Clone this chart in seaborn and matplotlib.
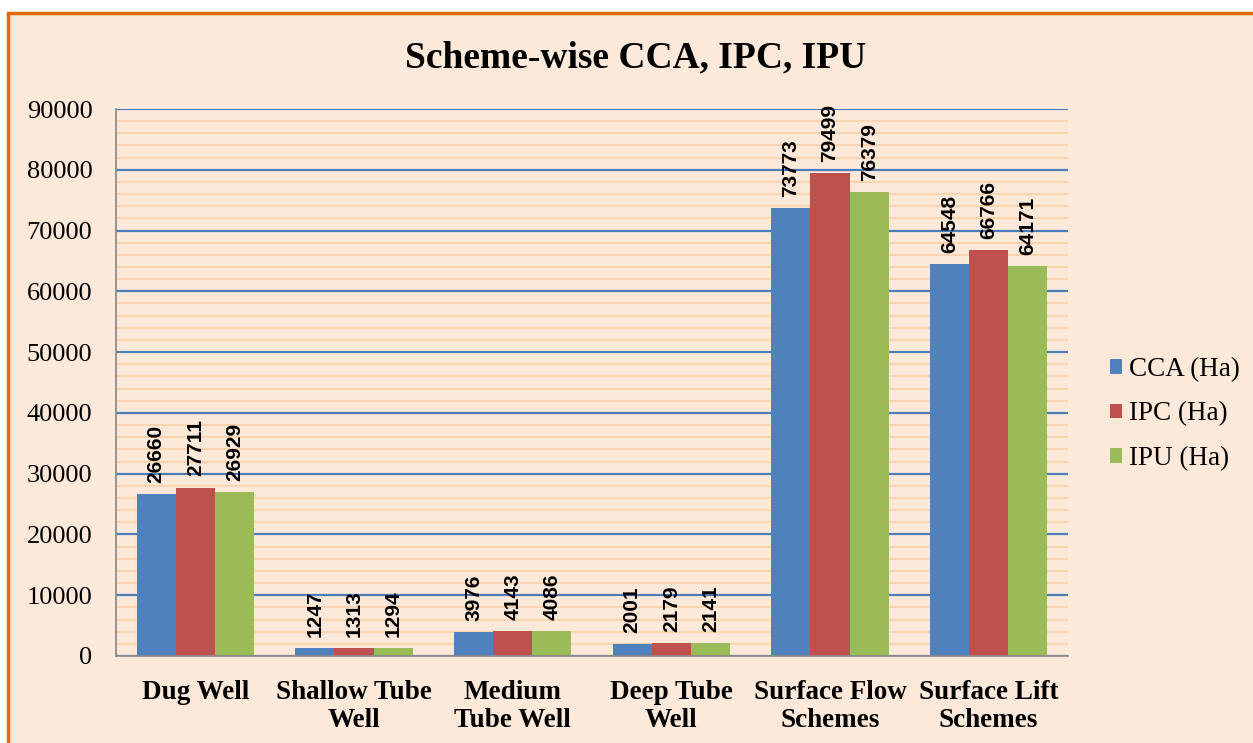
import matplotlib
matplotlib.use("Agg")
import matplotlib.pyplot as plt
import seaborn as sns
import pandas as pd
from matplotlib.patches import Rectangle, Patch
from matplotlib.ticker import MultipleLocator, FixedLocator

categories = ["Dug Well", "Shallow Tube\nWell", "Medium\nTube Well", "Deep Tube\nWell",
              "Surface Flow\nSchemes", "Surface Lift\nSchemes"]
series_names = ["CCA (Ha)", "IPC (Ha)", "IPU (Ha)"]
cca = [26660, 1247, 3976, 2001, 73773, 64548]
ipc = [27711, 1313, 4143, 2179, 79499, 66766]
ipu = [26929, 1294, 4086, 2141, 76379, 64171]
colors = ["#4F81BD", "#C0504D", "#9BBB59"]

rows = []
for name, vals in zip(series_names, [cca, ipc, ipu]):
    for c, v in zip(categories, vals):
        rows.append({"Scheme": c, "Series": name, "Value": v})
df = pd.DataFrame(rows)

sns.set_theme(style="white")
plt.rcParams["text.color"] = "black"
plt.rcParams["xtick.labelcolor"] = "black"
plt.rcParams["ytick.labelcolor"] = "black"
serif = ["Liberation Serif", "DejaVu Serif"]
sans = ["Liberation Sans", "DejaVu Sans"]

fig = plt.figure(figsize=(12.53, 7.43), dpi=100)
fig.patch.set_facecolor("white")
bg = Rectangle((8 / 1253, -0.01), 1.0, 1 - 13 / 743 + 0.01, transform=fig.transFigure,
               facecolor="#FDE9D9", edgecolor="#E36C09", linewidth=2.5, zorder=-10)
fig.patches.append(bg)

ax = fig.add_axes([116 / 1253, 1 - 656 / 743, (1068 - 116) / 1253, (656 - 109) / 743])
ax.patch.set_alpha(0)

sns.barplot(data=df, x="Scheme", y="Value", hue="Series", palette=colors,
            width=0.74, gap=0, ax=ax, legend=False, saturation=1,
            edgecolor="none", zorder=3)

ax.set_ylim(0, 90000)
ax.set_xlim(-0.5, 5.5)
ax.yaxis.set_major_locator(MultipleLocator(10000))
ax.yaxis.set_minor_locator(MultipleLocator(2000))
ax.grid(which="minor", axis="y", color="#FAD3B0", linewidth=1.5, zorder=0)
ax.grid(which="major", axis="y", color="#4A7EBB", linewidth=1.6, zorder=1)
ax.grid(False, axis="x")
ax.set_axisbelow(True)

ax.set_xlabel("")
ax.set_ylabel("")
ax.set_xticks(range(len(categories)))
ax.set_xticklabels(categories, fontsize=19.5, fontweight="bold", family=serif,
                   linespacing=1.2, color="black")
ax.xaxis.set_minor_locator(FixedLocator([i - 0.5 for i in range(len(categories) + 1)]))
ax.tick_params(axis="x", which="major", length=0, pad=17)
ax.tick_params(axis="x", which="minor", length=6, width=1.3, color="#8C8C8C", direction="out")
ax.tick_params(axis="y", which="major", length=6, width=1.3, color="#8C8C8C", direction="out",
               pad=11)
ax.tick_params(axis="y", which="minor", length=0)
for lab in ax.get_yticklabels():
    lab.set_family(serif)
    lab.set_fontsize(19)
    lab.set_color("black")

for s in ["top", "right"]:
    ax.spines[s].set_visible(False)
for s in ["left", "bottom"]:
    ax.spines[s].set_color("#8C8C8C")
    ax.spines[s].set_linewidth(1.3)
    ax.spines[s].set_zorder(4)

for cont in ax.containers:
    ax.bar_label(cont, labels=[f"{int(v)}" for v in cont.datavalues], rotation=90,
                 padding=8, fontsize=15, fontweight="bold", family=sans, color="black")

fig.text(636 / 1253, 1 - 58 / 743, "Scheme-wise CCA, IPC, IPU", ha="center", va="center",
         fontsize=27, fontweight="bold", family=serif, color="black")

handles = [Patch(facecolor=c, edgecolor="none") for c in colors]
fig.legend(handles, series_names, loc="center left", bbox_to_anchor=(1110 / 1253, 1 - 414 / 743),
           frameon=False, prop={"family": serif, "size": 19.5}, handlelength=0.45,
           handleheight=0.45, handletextpad=0.25, labelspacing=0.72, borderpad=0,
           borderaxespad=0, labelcolor="black")

fig.savefig("out.png", dpi=100, facecolor=fig.get_facecolor())
